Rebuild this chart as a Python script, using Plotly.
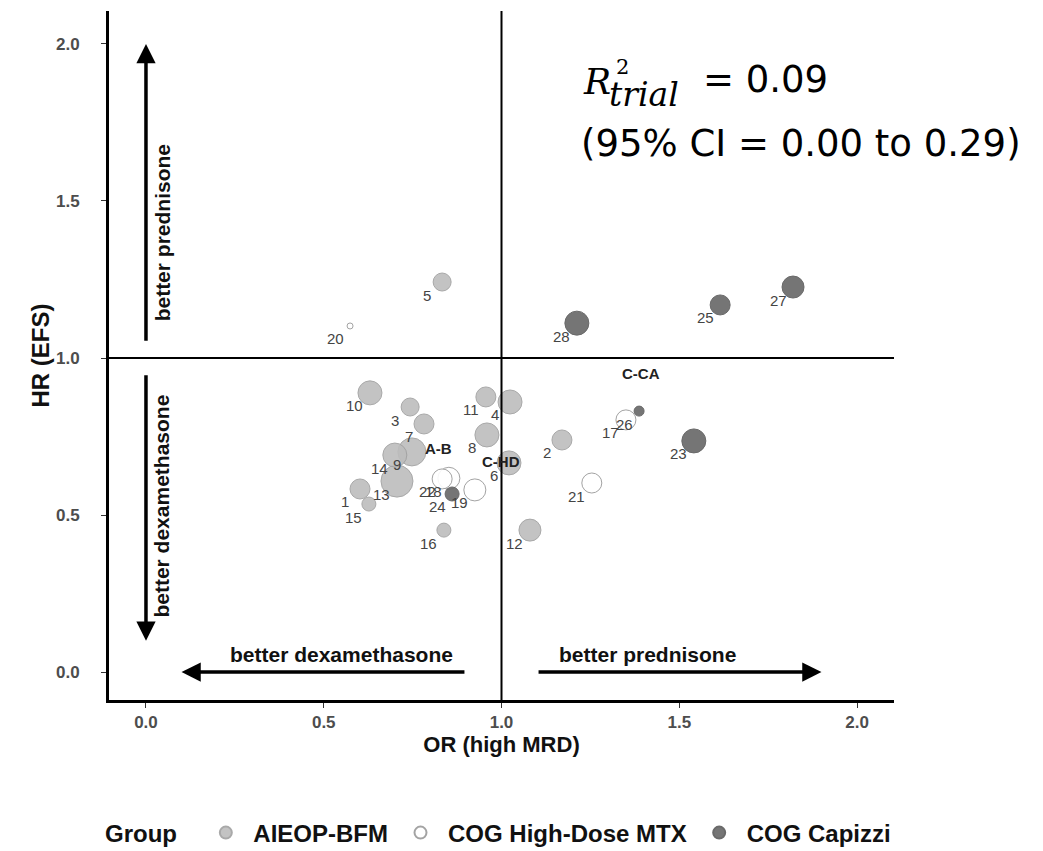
import plotly.graph_objects as go

# ---- data ----
trial_ids = [str(i) for i in range(1, 29)]
or_high_mrd = [0.602, 1.170, 0.743, 1.024, 0.833, 1.021, 0.782, 0.959, 0.748, 0.630,
               0.956, 1.080, 0.706, 0.700, 0.627, 0.838,
               1.350, 0.852, 0.925, 0.574, 1.254, 0.833,
               1.541, 0.861, 1.615, 1.387, 1.820, 1.212]
hr_efs = [0.583, 0.739, 0.844, 0.860, 1.242, 0.666, 0.790, 0.755, 0.701, 0.889,
          0.876, 0.452, 0.608, 0.691, 0.535, 0.452,
          0.803, 0.617, 0.580, 1.102, 0.602, 0.615,
          0.736, 0.567, 1.169, 0.831, 1.226, 1.111]
trial_weight = [20, 20, 18, 24, 18, 24, 20, 24, 28, 24,
                20, 22, 32, 24, 14, 14,
                20, 22, 22, 6, 20, 20,
                24, 14, 20, 10, 22, 24]
groups = ["AIEOP-BFM"] * 16 + ["COG High-Dose MTX"] * 6 + ["COG Capizzi"] * 6

group_names = ["AIEOP-BFM", "COG High-Dose MTX", "COG Capizzi"]
group_short = ["A-B", "C-HD", "C-CA"]
group_label_x = [0.824, 0.999, 1.392]
group_label_y = [0.713, 0.669, 0.952]

ref_or = [1.0]
ref_hr = [1.0]
x_ticks = [0.0, 0.5, 1.0, 1.5, 2.0]
y_ticks = [0.0, 0.5, 1.0, 1.5, 2.0]

styles = {
    "AIEOP-BFM": dict(color="#BDBDBD", line=dict(color="#A0A0A0", width=1)),
    "COG High-Dose MTX": dict(color="#FFFFFF", line=dict(color="#9A9A9A", width=1)),
    "COG Capizzi": dict(color="#676767", line=dict(color="#5A5A5A", width=1)),
}

W, H = 1043, 851
# page offset of the rendered figure (body margin)
OFF = 7
SL, ST, PW, PH = 108, 10, 785, 689          # plot area on screen
L, T = SL - OFF, ST - OFF
R, B = W - L - PW, H - T - PH


def px(xp):
    return (xp - SL) / PW


def py(yp):
    return (ST + PH - yp) / PH


fig = go.Figure()
for g in group_names:
    idx = [i for i, gg in enumerate(groups) if gg == g]
    fig.add_trace(go.Scatter(
        x=[or_high_mrd[i] for i in idx], y=[hr_efs[i] for i in idx],
        mode="markers", name=g,
        marker=dict(size=[trial_weight[i] for i in idx], opacity=0.9, **styles[g]),
        cliponaxis=False,
    ))

ann = []
# trial number labels (lower-left of each point)
for t, xv, yv in zip(trial_ids, or_high_mrd, hr_efs):
    ann.append(dict(x=xv, y=yv, xref="x", yref="y", text=t, showarrow=False,
                    xshift=-15, yshift=-13,
                    font=dict(family="Liberation Sans, Arial", size=15, color="#444444")))
# group labels
for t, xv, yv in zip(group_short, group_label_x, group_label_y):
    ann.append(dict(x=xv, y=yv, xref="x", yref="y", text=t, showarrow=False,
                    font=dict(family="Liberation Sans, Arial", size=15, color="#222222", weight="bold")))

# direction arrows
arrow_common = dict(xref="x", yref="y", axref="x", ayref="y", showarrow=True,
                    arrowhead=2, arrowsize=1.1, arrowwidth=3.5, arrowcolor="black", text="")
ann.append(dict(x=0.0, y=2.0, ax=0.0, ay=1.05, **arrow_common))
ann.append(dict(x=0.0, y=0.1, ax=0.0, ay=0.95, **arrow_common))
ann.append(dict(x=0.1, y=0.0, ax=0.9, ay=0.0, **arrow_common))
ann.append(dict(x=1.9, y=0.0, ax=1.1, ay=0.0, **arrow_common))

lab_font = dict(family="Liberation Sans, Arial", size=21, color="#111111", weight="bold")
ann.append(dict(x=0.55, y=0.055, xref="x", yref="y", text="better dexamethasone",
                showarrow=False, font=lab_font))
ann.append(dict(x=1.41, y=0.055, xref="x", yref="y", text="better prednisone",
                showarrow=False, font=lab_font))
ann.append(dict(x=0.045, y=1.40, xref="x", yref="y", text="better prednisone",
                showarrow=False, textangle=-90, font=lab_font))
ann.append(dict(x=0.045, y=0.53, xref="x", yref="y", text="better dexamethasone",
                showarrow=False, textangle=-90, font=lab_font))

# R^2 statistic text
serif = "DejaVu Serif, Liberation Serif"
sans = "DejaVu Sans, Open Sans, sans-serif"
ann.append(dict(x=px(580), y=py(80), xref="paper", yref="paper", text="<i>R</i>",
                showarrow=False, xanchor="left", yanchor="middle",
                font=dict(family=serif, size=36, color="black")))
ann.append(dict(x=px(613), y=py(66), xref="paper", yref="paper", text="2",
                showarrow=False, xanchor="left", yanchor="middle",
                font=dict(family=serif, size=21, color="black")))
ann.append(dict(x=px(606), y=py(93), xref="paper", yref="paper", text="<i>trial</i>",
                showarrow=False, xanchor="left", yanchor="middle",
                font=dict(family=serif, size=33, color="black")))
ann.append(dict(x=px(700), y=py(79), xref="paper", yref="paper", text="= 0.09",
                showarrow=False, xanchor="left", yanchor="middle",
                font=dict(family=sans, size=37, color="black")))
ann.append(dict(x=px(578), y=py(143), xref="paper", yref="paper",
                text="(95% CI = 0.00 to 0.29)",
                showarrow=False, xanchor="left", yanchor="middle",
                font=dict(family=sans, size=37, color="black")))

shapes = []
for v in ref_or:
    shapes.append(dict(type="line", xref="x", yref="paper", x0=v, x1=v, y0=0, y1=1,
                       line=dict(color="black", width=2)))
for v in ref_hr:
    shapes.append(dict(type="line", xref="paper", yref="y", x0=0, x1=1, y0=v, y1=v,
                       line=dict(color="black", width=2)))

tickfont = dict(family="Liberation Sans, Arial", size=17, color="#4D4D4D", weight="bold")
legfont = dict(family="Liberation Sans, Arial", size=24, color="#111111", weight="bold")

fig.update_layout(
    width=W, height=H,
    margin=dict(l=L, r=R, t=T, b=B, autoexpand=False),
    plot_bgcolor="white", paper_bgcolor="white",
    annotations=ann, shapes=shapes,
    xaxis=dict(range=[-0.104, 2.104], tickvals=x_ticks, ticktext=[f"{v:.1f}" for v in x_ticks],
               showgrid=False, zeroline=False, showline=True, linecolor="black", linewidth=3,
               ticks="outside", ticklen=5, tickcolor="#333333", tickfont=tickfont,
               ticklabelstandoff=0, automargin=False,
               title=dict(text="OR (high MRD)", standoff=6,
                          font=dict(family="Liberation Sans, Arial", size=22, color="#111111",
                                    weight="bold"))),
    yaxis=dict(range=[-0.089, 2.105], tickvals=y_ticks, ticktext=[f"{v:.1f}" for v in y_ticks],
               showgrid=False, zeroline=False, showline=True, linecolor="black", linewidth=3,
               ticks="outside", ticklen=5, tickcolor="#333333", tickfont=tickfont,
               ticklabelstandoff=18, automargin=False,
               title=dict(text="HR (EFS)", standoff=0,
                          font=dict(family="Liberation Sans, Arial", size=24, color="#111111",
                                    weight="bold"))),
    legend=dict(orientation="h", x=px(102), xanchor="left", y=py(832), yanchor="middle",
                title=dict(text="Group  ", font=legfont),
                font=legfont, itemsizing="constant", itemwidth=45),
    showlegend=True,
)

fig.write_html("out.html")
